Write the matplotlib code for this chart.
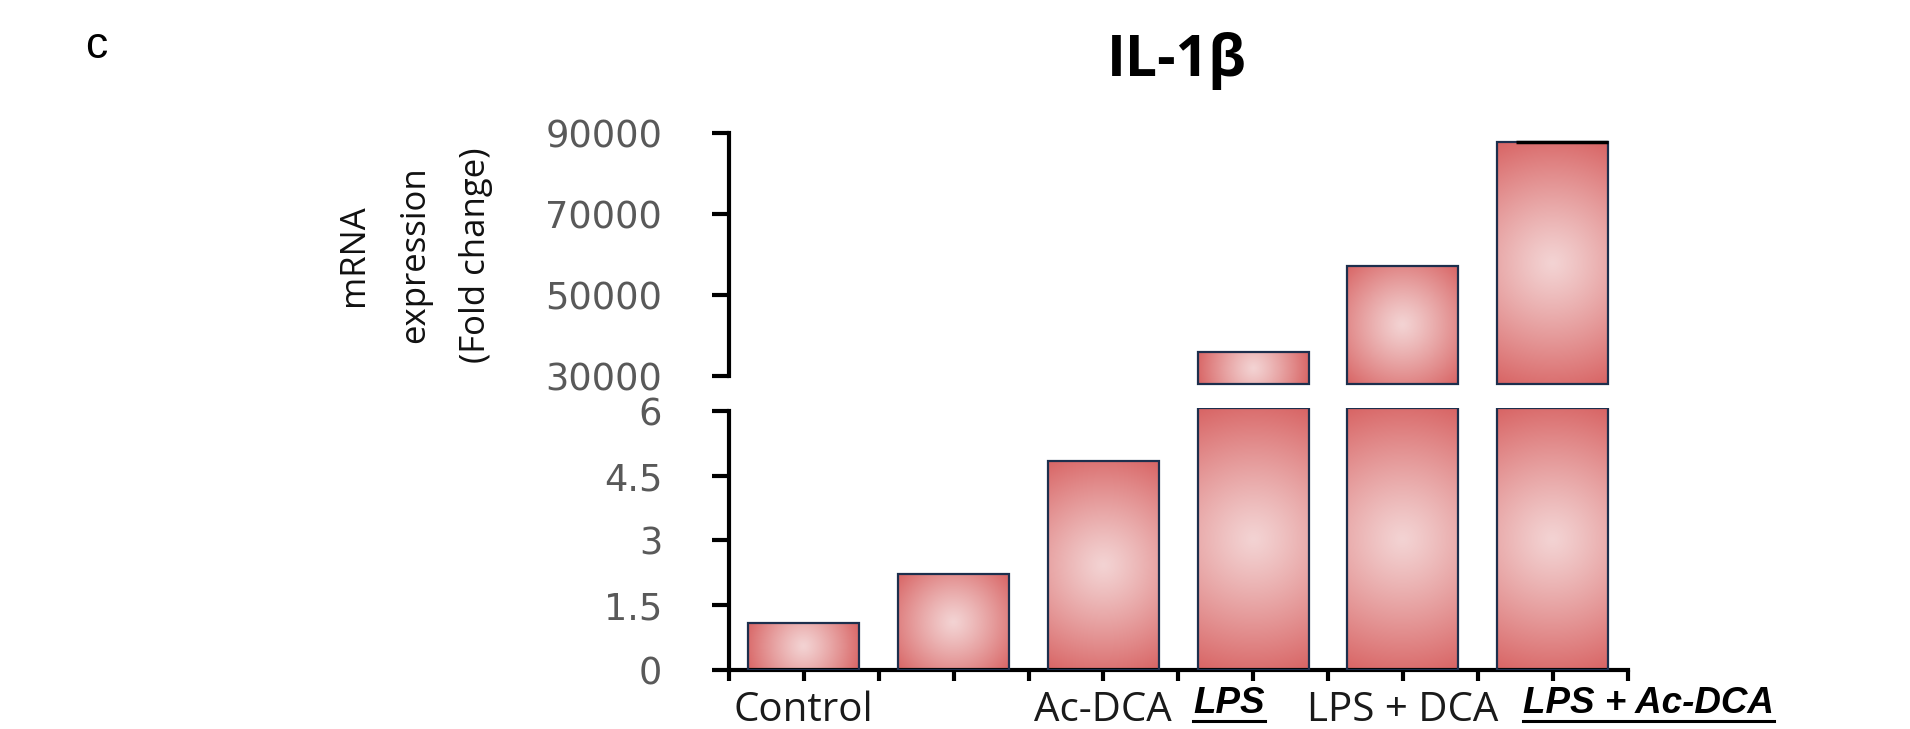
import numpy as np
import matplotlib.pyplot as plt
from matplotlib.patches import Rectangle
from matplotlib.lines import Line2D
import matplotlib.transforms as mtransforms

groups = ['Control', '', 'Ac-DCA', 'LPS', 'LPS + DCA', 'LPS + Ac-DCA']
fold_change = [1.1, 2.22, 4.85, 35900, 57200, 87600]
emphasised = [False, False, False, True, False, True]

low_ticks = [0, 1.5, 3, 4.5, 6]
low_ticklabels = ['0', '1.5', '3', '4.5', '6']
high_ticks = [30000, 50000, 70000, 90000]
high_ticklabels = ['30000', '50000', '70000', '90000']

light = np.array([0xf3, 0xd3, 0xd3]) / 255.
dark = np.array([0xd8, 0x64, 0x64]) / 255.
edge = '#1d2f4d'

W, H = 1910, 729
fig = plt.figure(figsize=(W / 100, H / 100), dpi=100)

ax_lo = fig.add_axes([729 / W, (H - 670) / H, 898.5 / W, (670 - 408.4) / H])
ax_hi = fig.add_axes([729 / W, (H - 385.8) / H, 898.5 / W, (385.8 - 132.7) / H])

lo_lim = (0, 6.06)
hi_lim = (27500, 90000)
hi_floor = 28000
x = np.arange(len(groups))
bw = 0.74

for ax, lim in ((ax_lo, lo_lim), (ax_hi, hi_lim)):
    ax.set_xlim(-0.5, len(groups) - 0.5)
    ax.set_ylim(*lim)
    for s in ('top', 'right'):
        ax.spines[s].set_visible(False)
    ax.spines['left'].set_linewidth(3)
    ax.tick_params(axis='y', direction='out', length=12, width=3, pad=36,
                   labelsize=26.5, labelcolor='#595959')
    for lab in ax.get_yticklabels():
        lab.set_family('DejaVu Sans')
    ax.patch.set_alpha(0)


def gradient_bar(ax, xc, y0, y1):
    rect = Rectangle((xc - bw / 2, y0), bw, y1 - y0, facecolor='none',
                     edgecolor=edge, lw=1.6, zorder=3)
    ax.add_patch(rect)
    p0 = ax.transData.transform((xc - bw / 2, y0))
    p1 = ax.transData.transform((xc + bw / 2, y1))
    wpx, hpx = abs(p1[0] - p0[0]), abs(p1[1] - p0[1])
    ny, nx = 200, 120
    U, V = np.meshgrid(np.linspace(-wpx / 2, wpx / 2, nx),
                       np.linspace(-hpx / 2, hpx / 2, ny))
    r = np.sqrt(U ** 2 + V ** 2) / np.hypot(wpx / 2, hpx / 2)
    t = np.clip(r, 0, 1) ** 1.15
    img = light * (1 - t)[..., None] + dark * t[..., None]
    im = ax.imshow(img, extent=(xc - bw / 2, xc + bw / 2, y0, y1),
                   aspect='auto', zorder=2, interpolation='bilinear')
    im.set_clip_path(rect)


for xi, v in zip(x, fold_change):
    gradient_bar(ax_lo, xi, 0, min(v, lo_lim[1]))
    if v > hi_floor:
        gradient_bar(ax_hi, xi, hi_floor, v)
# dark top rim on the tallest bar
ax_hi.hlines(fold_change[-1], x[-1] - bw / 2 + 0.17 * bw, x[-1] + bw / 2,
             color='black', lw=2.5, zorder=4)

for ax, lim in ((ax_lo, lo_lim), (ax_hi, hi_lim)):
    ax.set_xlim(-0.5, len(groups) - 0.5)
    ax.set_ylim(*lim)

# lower panel axes
ax_lo.spines['left'].set_bounds(0, 6)
ax_lo.spines['bottom'].set_linewidth(3)
ax_lo.set_yticks(low_ticks)
ax_lo.set_yticklabels(low_ticklabels, family='DejaVu Sans')
ax_lo.set_xticks(np.arange(-0.5, len(groups), 1))
ax_lo.set_xticks(x, minor=True)
ax_lo.tick_params(axis='x', which='both', direction='out', length=8, width=3,
                  labelbottom=False)

# upper panel axes
ax_hi.spines['bottom'].set_visible(False)
ax_hi.spines['left'].set_bounds(30000, 90000)
ax_hi.set_yticks(high_ticks)
ax_hi.set_yticklabels(high_ticklabels, family='DejaVu Sans')
ax_hi.set_xticks([])

# category labels
trans = mtransforms.blended_transform_factory(ax_lo.transData, ax_lo.transAxes)
label_texts = []
for xi, name, emph in zip(x, groups, emphasised):
    if not name:
        continue
    if emph:
        if name == 'LPS':
            t = ax_lo.text(xi - 0.16, -0.165, name, transform=trans, ha='center',
                           va='baseline', fontsize=26.5, family='Liberation Sans',
                           weight='bold', style='italic', color='black')
        else:
            t = ax_lo.text(xi - 0.2, -0.165, name, transform=trans, ha='left',
                           va='baseline', fontsize=26.5, family='Liberation Sans',
                           weight='bold', style='italic', color='black')
        label_texts.append(t)
    else:
        ax_lo.text(xi, -0.195, name, transform=trans, ha='center', va='baseline',
                   fontsize=29, family='Open Sans', color='#1a1a1a')

fig.text(1177 / W, 1 - 76 / H, 'IL-1β', ha='center', va='baseline',
         fontsize=41, family='Open Sans', weight='bold')
fig.text(415 / W, 1 - 255 / H, 'mRNA\nexpression\n(Fold change)', rotation=90,
         ha='center', va='center', multialignment='center', fontsize=25,
         family='Open Sans', linespacing=2.05, color='#111111')
fig.text(85 / W, 1 - 58 / H, 'c', ha='left', va='baseline', fontsize=32,
         family='Liberation Sans')

# underline the emphasised labels
fig.canvas.draw()
for t in label_texts:
    bb = t.get_window_extent()
    base = t.get_transform().transform(t.get_position())[1]
    y_ul = base - 8
    fig.add_artist(Line2D([bb.x0, bb.x1], [y_ul, y_ul], transform=None,
                          color='black', lw=2.2))

fig.savefig('out.png', dpi=100)
